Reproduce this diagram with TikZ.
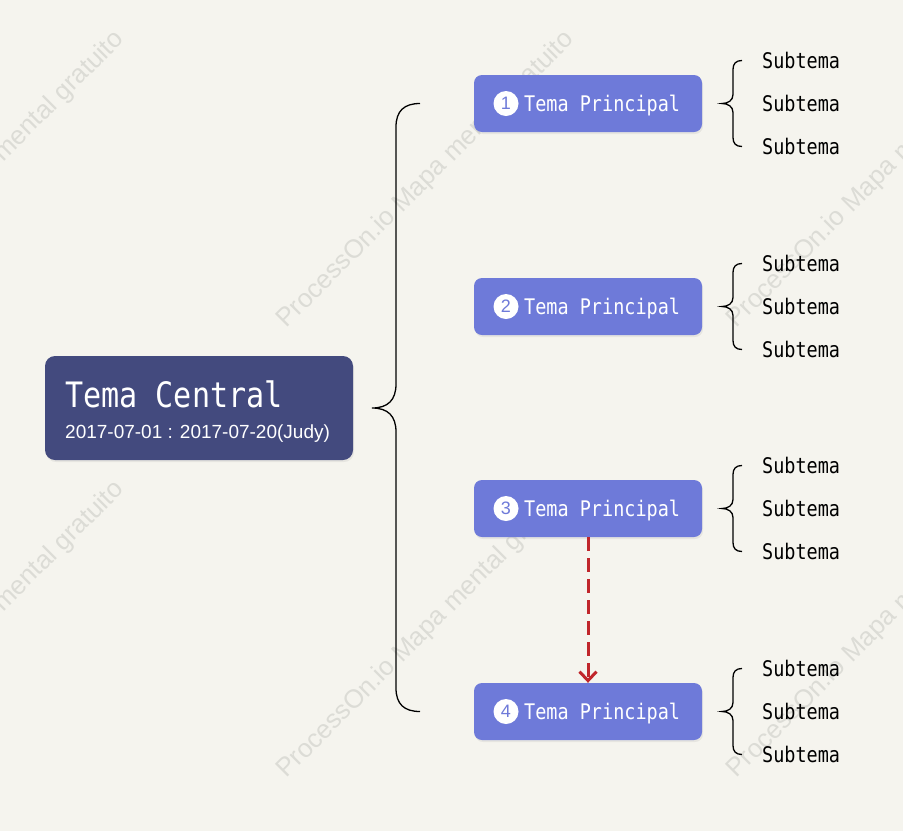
\documentclass[tikz,border=0pt]{standalone}
\usepackage{fontspec}
\setmainfont{Liberation Sans}
\newfontfamily\monofam[FakeStretch=0.86]{DejaVu Sans Mono}
\usetikzlibrary{arrows.meta,shadows}
\definecolor{bgc}{HTML}{F5F4EE}
\definecolor{centralc}{HTML}{434A7E}
\definecolor{mainc}{HTML}{6E7AD9}
\definecolor{arrowred}{HTML}{C0262B}
\definecolor{wmark}{HTML}{DCDCD6}
\begin{document}
\begin{tikzpicture}[x=1pt,y=-1pt,
  centralbox/.style={fill=centralc, rounded corners=10pt, minimum width=308pt, minimum height=104pt, inner sep=0pt,
    drop shadow={opacity=0.12, shadow xshift=1pt, shadow yshift=-2pt}},
  mainbox/.style={fill=mainc, rounded corners=8pt, minimum width=228pt, minimum height=57pt, inner sep=0pt,
    drop shadow={opacity=0.12, shadow xshift=1pt, shadow yshift=-2pt}},
  numcirc/.style={circle, fill=white, minimum size=25pt, inner sep=0pt, text=mainc, font=\fontsize{18pt}{18pt}\selectfont},
  titletext/.style={text=white, font=\monofam\fontsize{35pt}{38pt}\selectfont, anchor=base west, inner sep=0pt},
  datetext/.style={text=white, font=\fontsize{19pt}{22pt}\selectfont, anchor=base west, inner sep=0pt},
  maintext/.style={text=white, font=\monofam\fontsize{21.5pt}{24pt}\selectfont, anchor=base west, inner sep=0pt},
  subtext/.style={text=black, font=\monofam\fontsize{21.5pt}{24pt}\selectfont, anchor=base west, inner sep=0pt},
  bracel/.style={draw=black, line width=1.3pt},
  wm/.style={text=wmark, font=\fontsize{26pt}{28pt}\selectfont, rotate=45, inner sep=0pt},
  linkarrow/.style={draw=arrowred, line width=3pt, dash pattern=on 14pt off 7pt,
    -{Straight Barb[length=9pt,width=17pt,line width=3pt]}}
]
\useasboundingbox (0,0) rectangle (903,831);
\fill[bgc] (0,0) rectangle (903,831);

% watermarks
\begin{scope}
\clip (0,0) rectangle (903,831);
\foreach \cx in {-24,426,876}{
  \foreach \cy in {180,630}{
    \node[wm] at (\cx,\cy) {ProcessOn.io Mapa mental gratuito};
  }
}
\end{scope}

% central topic
\node[centralbox] (central) at (199,408) {};
\node[titletext] (ctitle) at (65,407) {Tema Central};
\node[datetext] (cdate) at (65,438) {2017-07-01 : 2017-07-20(Judy)};

% main topics
\foreach \i/\y in {1/103.5,2/306.5,3/508.5,4/711.5}{
  \node[mainbox] (m\i) at (588,\y) {};
  \node[numcirc] (n\i) at (506,\y) {\i};
  \node[maintext] (t\i) at (524,\y+7.5) {Tema Principal};
  % sub topics
  \node[subtext] (s\i a) at (762,\y-35.5) {Subtema};
  \node[subtext] (s\i b) at (762,\y+7.5) {Subtema};
  \node[subtext] (s\i c) at (762,\y+50.5) {Subtema};
  % small brace
  \draw[bracel] (742,\y-43) .. controls (736,\y-43) and (733,\y-40) .. (733,\y-34)
    -- (733,\y-9) .. controls (733,\y-3) and (728,\y) .. (722,\y)
    .. controls (728,\y) and (733,\y+3) .. (733,\y+9)
    -- (733,\y+34) .. controls (733,\y+40) and (736,\y+43) .. (742,\y+43);
}

% big brace
\coordinate (btop) at (420,103.5);
\coordinate (bbot) at (420,711.5);
\coordinate (btip) at (372,408);
\draw[bracel] (btop) .. controls (404,103.5) and (396,111) .. (396,127)
  -- (396,384) .. controls (396,400) and (388,408) .. (btip)
  .. controls (388,408) and (396,416) .. (396,432)
  -- (396,688) .. controls (396,704) and (404,711.5) .. (bbot);

% relation arrow
\draw[linkarrow] (m3.south) -- (m4.north);
\end{tikzpicture}
\end{document}
